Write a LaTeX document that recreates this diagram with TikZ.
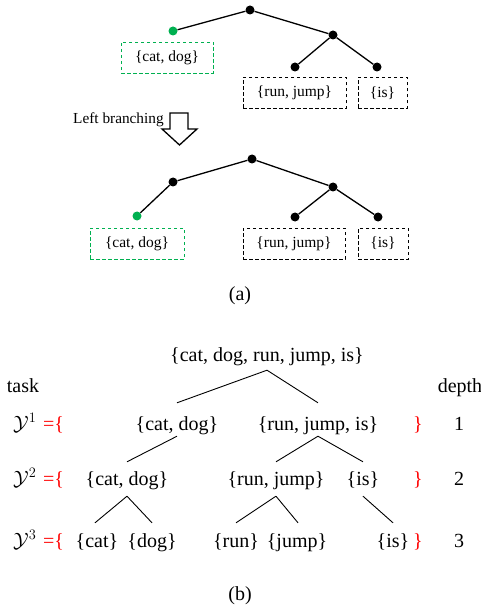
\documentclass[tikz,border=0pt]{standalone}
\usepackage{fontspec}
\setmainfont{Liberation Serif}
\usetikzlibrary{calc}
\definecolor{leafgreen}{RGB}{0,176,80}
\tikzset{
  dot/.style={circle, fill=black, inner sep=0pt, minimum size=9pt},
  gdot/.style={dot, fill=leafgreen},
  setbox/.style={draw, dash pattern=on 3.5pt off 2.5pt, line width=0.9pt,
    font=\fontsize{15.5}{17}\selectfont, inner sep=0pt, minimum height=31pt},
  gbox/.style={setbox, draw=leafgreen},
  edge/.style={line width=1.3pt},
  lbl/.style={font=\fontsize{20}{23}\selectfont, anchor=base, inner sep=0pt,
    text height=14pt, text depth=5pt},
  tline/.style={line width=0.9pt},
}
\begin{document}
\begin{tikzpicture}[x=1pt, y=-1pt]
\useasboundingbox (0,0) rectangle (481,612);

% ---- upper tree
\node[dot]  (ur)  at (250,10) {};
\node[gdot] (ul)  at (173,31) {};
\node[dot]  (um)  at (333,35) {};
\node[dot]  (ua)  at (295,67) {};
\node[dot]  (ub)  at (377,67) {};
\draw[edge] (ur) -- (ul) (ur) -- (um) (um) -- (ua) (um) -- (ub);
\node[gbox, minimum width=92pt]  (ubox1) at (167,57.5) {\{cat, dog\}};
\node[setbox, minimum width=103pt] (ubox2) at (294.5,93) {\{run, jump\}};
\node[setbox, minimum width=49pt]  (ubox3) at (382.5,93) {\{is\}};

% ---- transformation arrow
\node[font=\fontsize{15.3}{17}\selectfont, anchor=base west, inner sep=0pt]
  (lbtext) at (73,124) {Left branching};
\draw[line width=1.3pt, fill=white]
  (170,113) -- (188,113) -- (188,129) -- (197,129) -- (179.5,145)
  -- (162,129) -- (170,129) -- cycle;

% ---- lower tree
\node[dot]  (lr)  at (252,159) {};
\node[dot]  (ll)  at (173,182) {};
\node[gdot] (lg)  at (137,216) {};
\node[dot]  (lm)  at (333,187) {};
\node[dot]  (la)  at (295,217) {};
\node[dot]  (lb)  at (378,217) {};
\draw[edge] (lr) -- (ll) (ll) -- (lg) (lr) -- (lm) (lm) -- (la) (lm) -- (lb);
\node[gbox, minimum width=94pt]  (lbox1) at (137,243.5) {\{cat, dog\}};
\node[setbox, minimum width=102pt] (lbox2) at (294,243.5) {\{run, jump\}};
\node[setbox, minimum width=50pt]  (lbox3) at (383,243.5) {\{is\}};

\node[font=\fontsize{20}{23}\selectfont] (capa) at (240,296) {(a)};

% ---- hierarchy of label sets
\node[lbl] (root) at (267,361) {\{cat, dog, run, jump, is\}};

\node[lbl] (c1) at (177,430) {\{cat, dog\}};
\node[lbl] (c2) at (318,430) {\{run, jump, is\}};

\node[lbl] (d1) at (127,485) {\{cat, dog\}};
\node[lbl] (d2) at (276,485) {\{run, jump\}};
\node[lbl] (d3) at (363,485) {\{is\}};

\node[lbl] (e1) at (97,547)  {\{cat\}};
\node[lbl] (e2) at (152,547) {\{dog\}};
\node[lbl] (e3) at (236,547) {\{run\}};
\node[lbl] (e4) at (297,547) {\{jump\}};
\node[lbl] (e5) at (393,547) {\{is\}};

\draw[tline] ([yshift=-4pt]root.south) -- ([yshift=13pt]c1.north);
\draw[tline] ([yshift=-4pt]root.south) -- ([yshift=13pt]c2.north);
\draw[tline] ([yshift=-1pt]c1.south) -- ([yshift=9pt]d1.north);
\draw[tline] ([yshift=-1pt]c2.south) -- ([yshift=9pt]d2.north);
\draw[tline] ([yshift=-1pt]c2.south) -- ([yshift=9pt]d3.north);
\draw[tline] ([yshift=-6pt]d1.south) -- ([xshift=-2pt,yshift=10pt]e1.north);
\draw[tline] ([yshift=-6pt]d1.south) -- ([yshift=10pt]e2.north);
\draw[tline] ([yshift=-6pt]d2.south) -- ([yshift=10pt]e3.north);
\draw[tline] ([yshift=-6pt]d2.south) -- ([xshift=1pt,yshift=10pt]e4.north);
\draw[tline] ([yshift=-6pt]d3.south) -- ([yshift=10pt]e5.north);

% ---- task and depth columns
\node[lbl] (task)  at (23,392)  {task};
\node[lbl] (depth) at (460,392) {depth};
\foreach \k/\yy in {1/430, 2/485, 3/547} {
  \node[lbl, anchor=base west] (y\k) at (13,\yy) {$\mathcal{Y}^{\k}$};
  \node[lbl, anchor=base west, text=red] (open\k) at (43,\yy) {=\{};
  \node[lbl, text=red] (close\k) at (418,\yy) {\}};
  \node[lbl] (dep\k) at (459,\yy) {\k};
}

\node[font=\fontsize{20}{23}\selectfont] (capb) at (240,596) {(b)};
\end{tikzpicture}
\end{document}
